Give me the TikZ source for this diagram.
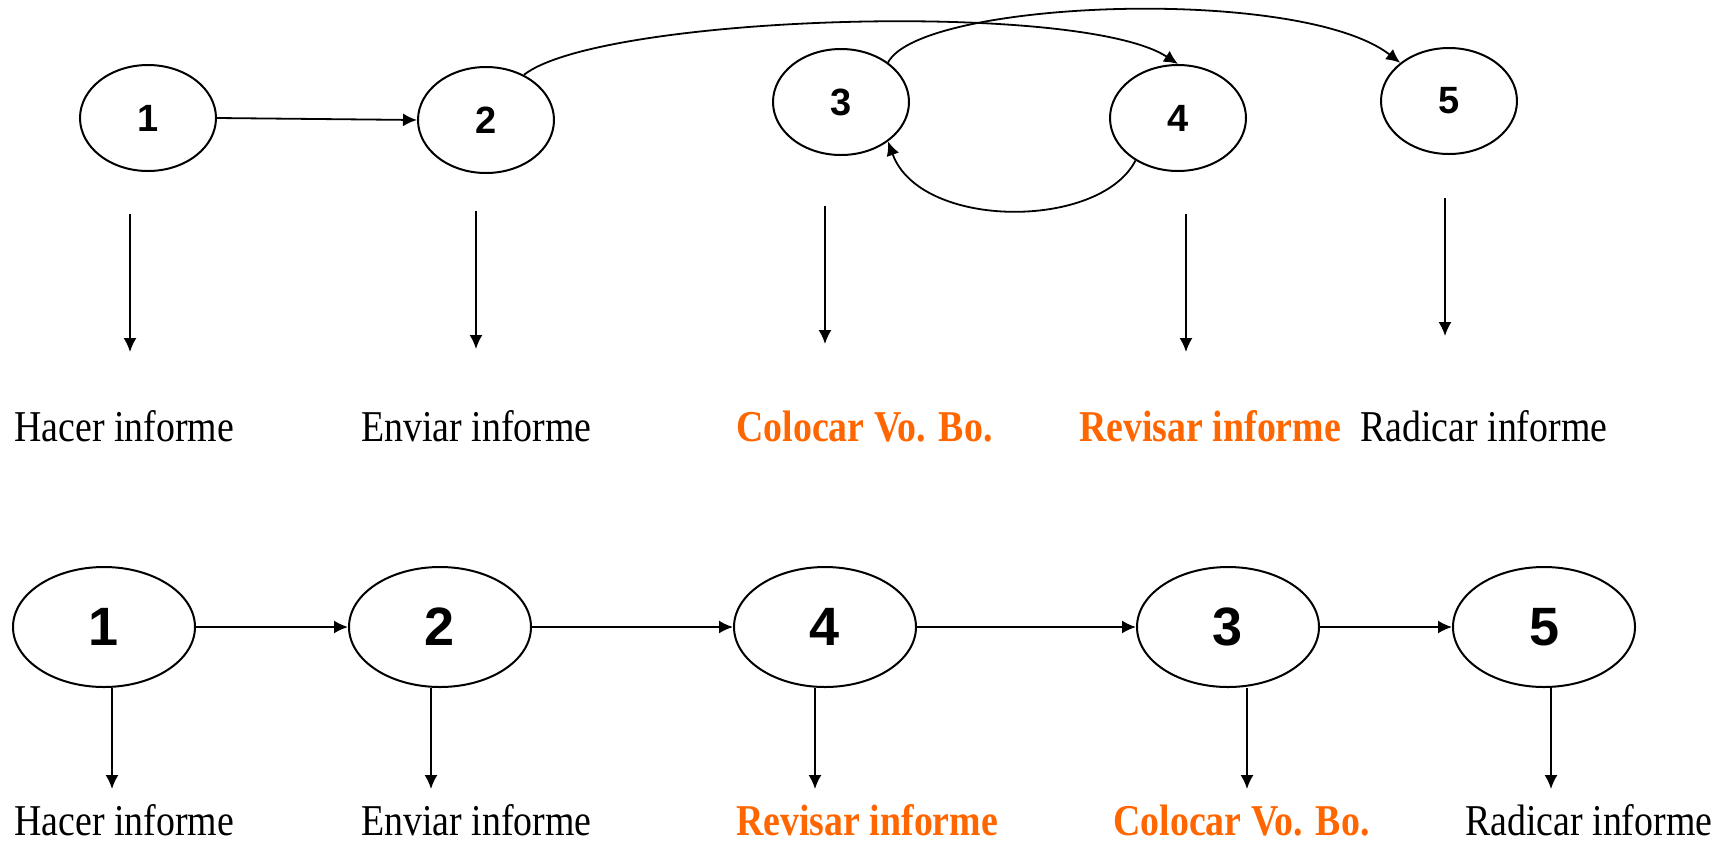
\documentclass[tikz,border=0pt]{standalone}
\usepackage{fontspec}
\setmainfont{Liberation Serif}[FakeStretch=0.86]
\newfontfamily\digits{Liberation Sans}
\usetikzlibrary{arrows.meta,shapes.geometric}
\definecolor{tarea}{RGB}{255,102,0}

\tikzset{
  state/.style={draw, ellipse, line width=1pt, minimum width=68pt, minimum height=53pt, inner sep=0pt, font=\digits\bfseries\fontsize{19}{19}\selectfont},
  bigstate/.style={state, minimum width=91pt, minimum height=60pt, font=\digits\bfseries\fontsize{27}{27}\selectfont},
  flow/.style={-{Latex[length=7pt,width=6.5pt]}, line width=0.9pt},
  task/.style={anchor=base west, inner sep=0pt, font=\fontsize{22}{26}\selectfont},
  hot/.style={task, text=tarea, font=\bfseries\fontsize{22}{26}\selectfont}
}

\begin{document}
\begin{tikzpicture}[x=0.5pt, y=-0.5pt]
    \useasboundingbox (0,0) rectangle (1724,842);

    \node[state] (t1) at (148,118) {1};
    \node[state] (t2) at (486,120) {2};
    \node[state] (t3) at (841,102) {3};
    \node[state] (t4) at (1178,118) {4};
    \node[state] (t5) at (1449,101) {5};

    \draw[flow] (t1.east) -- (t2.west);
    \draw[flow] (t2.50) .. controls (600,15) and (1080,0) .. (t4.north);
    \draw[flow] (t3.40) .. controls (920,0) and (1300,-15) .. (t5.north west);
    \draw[flow] (t4.225) .. controls (1100,230) and (920,230) .. (t3.-40);

    \node[task] (l1) at (14,441) {Hacer informe};
    \node[task] (l2) at (361,441) {Enviar informe};
    \node[hot]  (l3) at (736,441) {Colocar Vo. Bo.};
    \node[hot]  (l4) at (1079,441) {Revisar informe};
    \node[task] (l5) at (1360,441) {Radicar informe};

    \foreach \i/\x/\y in {1/130/214, 2/476/211, 3/825/206, 4/1186/214, 5/1445/198} {
        \coordinate (u\i) at (\x,\y);
        \coordinate (v\i) at (\x,\y+138);
        \draw[flow] (u\i) -- (v\i);
    }

    \node[bigstate] (b1) at (104,627) {1};
    \node[bigstate] (b2) at (440,627) {2};
    \node[bigstate] (b4) at (825,627) {4};
    \node[bigstate] (b3) at (1228,627) {3};
    \node[bigstate] (b5) at (1544,627) {5};

    \draw[flow] (b1) -- (b2);
    \draw[flow] (b2) -- (b4);
    \draw[flow] (b4) -- (b3);
    \draw[flow] (b3) -- (b5);

    \node[task] (m1) at (14,835) {Hacer informe};
    \node[task] (m2) at (361,835) {Enviar informe};
    \node[hot]  (m4) at (736,835) {Revisar informe};
    \node[hot]  (m3) at (1113,835) {Colocar Vo. Bo.};
    \node[task] (m5) at (1465,835) {Radicar informe};

    \foreach \i/\x in {1/112, 2/431, 4/815, 3/1247, 5/1551} {
        \coordinate (d\i) at (\x,789);
        \draw[flow] (d\i |- b\i.south) -- (d\i);
    }
\end{tikzpicture}
\end{document}
